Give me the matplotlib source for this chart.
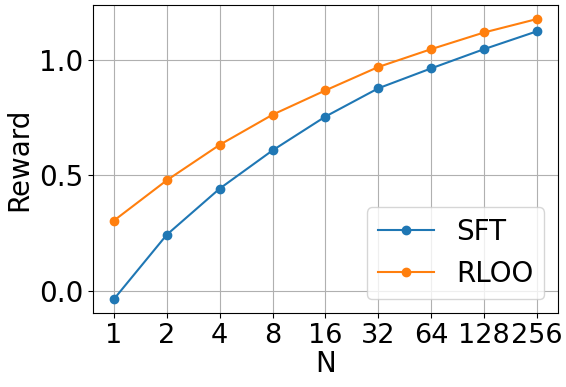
import matplotlib
matplotlib.use('Agg')
import matplotlib.pyplot as plt

n_values = ['1', '2', '4', '8', '16', '32', '64', '128', '256']
sft = [-0.034, 0.244, 0.443, 0.608, 0.754, 0.876, 0.962, 1.045, 1.122]
rloo = [0.305, 0.479, 0.632, 0.762, 0.867, 0.968, 1.045, 1.117, 1.175]

plt.rcParams['font.size'] = 20
plt.rcParams['xtick.labelsize'] = 19.5
plt.rcParams['ytick.labelsize'] = 20

fig, ax = plt.subplots(figsize=(5.66, 3.87), dpi=100)
x = range(len(n_values))
ax.plot(x, sft, marker='o', label='SFT')
ax.plot(x, rloo, marker='o', label='RLOO')
ax.set_xticks(list(x))
ax.set_xticklabels(n_values)
ax.set_xlabel('N', labelpad=1)
ax.set_ylabel('Reward')
ax.grid(True)
ax.legend(loc='lower right')
fig.subplots_adjust(left=0.164, right=0.986, top=0.987, bottom=0.191)
fig.savefig('out.png')
